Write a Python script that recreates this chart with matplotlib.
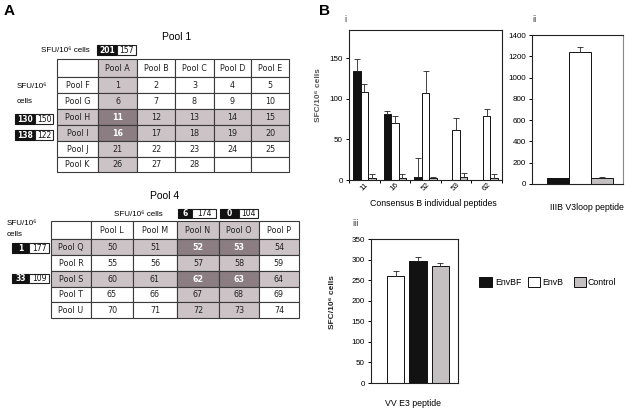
import matplotlib
matplotlib.use("Agg")
import matplotlib.pyplot as plt
from matplotlib.patches import Rectangle
import numpy as np

plt.rcParams['font.family'] = ['Liberation Sans', 'DejaVu Sans']

# ---------------- data ----------------
pool1_cols = ["Pool A", "Pool B", "Pool C", "Pool D", "Pool E"]
pool1_rows = ["Pool F", "Pool G", "Pool H", "Pool I", "Pool J", "Pool K"]
pool1_cells = [["1", "2", "3", "4", "5"],
               ["6", "7", "8", "9", "10"],
               ["11", "12", "13", "14", "15"],
               ["16", "17", "18", "19", "20"],
               ["21", "22", "23", "24", "25"],
               ["26", "27", "28", "", ""]]
pool1_hit_cols = [0]
pool1_hit_rows = [2, 3]
pool1_col_sfu = [(201, 157)]
pool1_row_sfu = [(130, 150), (138, 122)]

pool4_cols = ["Pool L", "Pool M", "Pool N", "Pool O", "Pool P"]
pool4_rows = ["Pool Q", "Pool R", "Pool S", "Pool T", "Pool U"]
pool4_cells = [["50", "51", "52", "53", "54"],
               ["55", "56", "57", "58", "59"],
               ["60", "61", "62", "63", "64"],
               ["65", "66", "67", "68", "69"],
               ["70", "71", "72", "73", "74"]]
pool4_hit_cols = [2, 3]
pool4_hit_rows = [0, 2]
pool4_col_sfu = [(6, 174), (0, 104)]
pool4_row_sfu = [(1, 177), (33, 109)]

peptides = ["11", "16", "52", "53", "62"]
envbf_i = [135, 82, 4, 0, 0]
envbf_i_err = [14, 3, 23, 0, 0]
envb_i = [108, 70, 107, 62, 79]
envb_i_err = [10, 9, 27, 14, 8]
ctrl_i = [2, 3, 2, 4, 3]
ctrl_i_err = [5, 4, 2, 5, 4]

v3_vals = [55, 1240, 58]          # EnvBF, EnvB, Control
v3_err = [0, 45, 8]

e3_vals = [261, 297, 284]         # EnvB, EnvBF, Control
e3_err = [12, 9, 8]

series_names = ["EnvBF", "EnvB", "Control"]
c_black = "#121212"
c_white = "#ffffff"
c_gray = "#c4c0c2"
c_light = "#cbc3c6"
c_dark = "#8b7d81"

W, H = 635, 415
fig = plt.figure(figsize=(W / 100, H / 100), dpi=100)

def rect(l, t, r, b):
    return [l / W, 1 - b / H, (r - l) / W, (b - t) / H]

bg = fig.add_axes([0, 0, 1, 1])
bg.set_xlim(0, W)
bg.set_ylim(H, 0)
bg.axis('off')

tfs = 5.8
tab_font = ['DejaVu Sans']

def draw_table(xe, ye, cols, rows, cells, hit_cols, hit_rows):
    nr = len(rows) + 1
    nc = len(cols) + 1
    for r in range(nr):
        for c in range(nc):
            shade = 0
            if r == 0 and c == 0:
                shade = 0
            else:
                in_col = (c - 1) in hit_cols
                in_row = (r - 1) in hit_rows
                if r == 0:
                    shade = 1 if in_col else 0
                elif c == 0:
                    shade = 1 if in_row else 0
                else:
                    shade = 2 if (in_col and in_row) else (1 if (in_col or in_row) else 0)
            fc = [c_white, c_light, c_dark][shade]
            bg.add_patch(Rectangle((xe[c], ye[r]), xe[c + 1] - xe[c], ye[r + 1] - ye[r],
                                   facecolor=fc, edgecolor="#3a3a3a", lw=0.8))
            if r == 0 and c == 0:
                continue
            if r == 0:
                txt = cols[c - 1]
            elif c == 0:
                txt = rows[r - 1]
            else:
                txt = cells[r - 1][c - 1]
            tc = "white" if shade == 2 else "#222222"
            fw = "bold" if shade == 2 else "normal"
            bg.text((xe[c] + xe[c + 1]) / 2, (ye[r] + ye[r + 1]) / 2 + 0.3, txt,
                    ha="center", va="center", fontsize=tfs, color=tc,
                    fontweight=fw, family=tab_font)

def sfu_box(xb, xw, xe_, y0, y1, v1, v2):
    bg.add_patch(Rectangle((xb, y0), xw - xb, y1 - y0, facecolor=c_black,
                           edgecolor=c_black, lw=0.8))
    bg.add_patch(Rectangle((xw, y0), xe_ - xw, y1 - y0, facecolor="white",
                           edgecolor="#222222", lw=0.8))
    bg.text((xb + xw) / 2, (y0 + y1) / 2 + 0.3, str(v1), ha="center", va="center",
            fontsize=5.5, color="white", fontweight="bold", family=tab_font)
    bg.text((xw + xe_) / 2, (y0 + y1) / 2 + 0.3, str(v2), ha="center", va="center",
            fontsize=5.5, color="#111111", family=tab_font)

# Panel A labels
bg.text(4, 11, "A", fontsize=11, fontweight="bold", va="center", ha="left")
bg.text(177, 37, "Pool 1", fontsize=7.5, ha="center", va="center")
bg.text(90, 50, "SFU/10⁶ cells", fontsize=5.8, ha="right", va="center")
bg.text(17, 86, "SFU/10⁶", fontsize=5.8, ha="left", va="center")
bg.text(17, 101, "cells", fontsize=5.8, ha="left", va="center")

draw_table([57, 98, 137, 175, 214, 251, 289],
           [59, 77, 93, 109, 125, 141, 157, 172],
           pool1_cols, pool1_rows, pool1_cells, pool1_hit_cols, pool1_hit_rows)
sfu_box(97, 117, 136, 45, 55, *pool1_col_sfu[0])
sfu_box(15, 35, 53, 114, 124, *pool1_row_sfu[0])
sfu_box(15, 35, 53, 130, 140, *pool1_row_sfu[1])

bg.text(165, 196, "Pool 4", fontsize=7.5, ha="center", va="center")
bg.text(163, 214, "SFU/10⁶ cells", fontsize=5.8, ha="right", va="center")
bg.text(7, 223, "SFU/10⁶", fontsize=5.8, ha="left", va="center")
bg.text(7, 234, "cells", fontsize=5.8, ha="left", va="center")
draw_table([51, 91, 133, 177, 219, 259, 299],
           [221, 239, 255, 271, 287, 302, 318],
           pool4_cols, pool4_rows, pool4_cells, pool4_hit_cols, pool4_hit_rows)
sfu_box(178, 192, 216, 209, 218, *pool4_col_sfu[0])
sfu_box(220, 239, 258, 209, 218, *pool4_col_sfu[1])
sfu_box(12, 29, 49, 243, 253, *pool4_row_sfu[0])
sfu_box(12, 29, 49, 274, 283, *pool4_row_sfu[1])

# Panel B labels
bg.text(319, 11, "B", fontsize=11, fontweight="bold", va="center", ha="left")
bg.text(344, 20, "i", fontsize=6.5, va="center", ha="left", color="#333333")
bg.text(532, 20, "ii", fontsize=6.5, va="center", ha="left", color="#333333")
bg.text(352, 223, "iii", fontsize=6.5, va="center", ha="left", color="#333333")

def style_ax(ax):
    for s in ax.spines.values():
        s.set_linewidth(0.8)
        s.set_color("#222222")
    ax.tick_params(axis="y", labelsize=5.8, length=2.5, width=0.7, pad=2, direction="out")
    ax.tick_params(axis="x", labelsize=5.8, length=2.5, width=0.7, pad=1, direction="out")

ekw = dict(fmt="none", ecolor="#222222", elinewidth=0.6, capsize=2, capthick=0.6)

def up_err(ax, x, v, e):
    x = np.asarray(x, float); v = np.asarray(v, float); e = np.asarray(e, float)
    m = e > 0
    if m.any():
        ax.errorbar(x[m], v[m], yerr=[np.zeros(m.sum()), e[m]], **ekw)

# Chart i
ax1 = fig.add_axes(rect(349, 30, 502, 180))
style_ax(ax1)
x = np.arange(len(peptides))
bw = 0.245
for off, vals, errs, col in [(-bw, envbf_i, envbf_i_err, c_black),
                             (0, envb_i, envb_i_err, c_white),
                             (bw, ctrl_i, ctrl_i_err, c_gray)]:
    ax1.bar(x + off, vals, bw, color=col, edgecolor="#111111", lw=0.7, zorder=2)
    up_err(ax1, x + off, vals, errs)
ax1.set_xlim(-0.5, len(peptides) - 0.5)
ax1.set_ylim(0, 185)
ax1.set_yticks([0, 50, 100, 150])
ax1.set_xticks(x)
ax1.set_xticklabels(peptides, rotation=45, ha="center")
ax1.tick_params(axis="x", length=0)
ax1.set_xticks(np.arange(len(peptides) + 1) - 0.5, minor=True)
ax1.tick_params(axis="x", which="minor", length=2.5, width=0.7)
bg.text(433, 203, "Consensus B individual peptides", fontsize=6.3, ha="center", va="center")
bg.text(319, 95, "SFC/10⁶ cells", fontsize=6, ha="center", va="center", rotation=90,
        fontweight="bold", color="#555555")

# Chart ii
ax2 = fig.add_axes(rect(532, 35, 623, 184))
style_ax(ax2)
x2 = np.arange(3)
ax2.bar(x2, v3_vals, 1.0, color=[c_black, c_white, c_gray], edgecolor="#111111", lw=0.7, zorder=2)
up_err(ax2, x2, v3_vals, v3_err)
ax2.set_xlim(-1.2, 2.95)
ax2.set_ylim(0, 1400)
ax2.set_yticks(np.arange(0, 1401, 200))
ax2.set_xticks([])
ax2.spines["right"].set_color("#888888")
bg.text(587, 207, "IIIB V3loop peptide", fontsize=6.3, ha="center", va="center")

# Chart iii
ax3 = fig.add_axes(rect(371, 239, 458, 383))
style_ax(ax3)
x3 = np.arange(3)
ax3.bar(x3, e3_vals, 0.76, color=[c_white, c_black, c_gray], edgecolor="#111111", lw=0.7, zorder=2)
up_err(ax3, x3, e3_vals, e3_err)
ax3.set_xlim(-1.09, 2.78)
ax3.set_ylim(0, 350)
ax3.set_yticks(np.arange(0, 351, 50))
ax3.set_xticks([])
bg.text(333, 302, "SFC/10⁶ cells", fontsize=6, ha="center", va="center", rotation=90,
        fontweight="bold", color="#222222")
bg.text(413, 403, "VV E3 peptide", fontsize=6.3, ha="center", va="center")

# Legend
for (l, r_, col), name, tx in zip([(479, 492, c_black), (528, 540, c_white), (574, 586, c_gray)],
                                  series_names, [495, 542, 588]):
    bg.add_patch(Rectangle((l, 277), r_ - l, 10, facecolor=col, edgecolor="#111111", lw=0.7))
    bg.text(tx, 282, name, fontsize=6.3, ha="left", va="center")

fig.savefig("out.png", dpi=100)
